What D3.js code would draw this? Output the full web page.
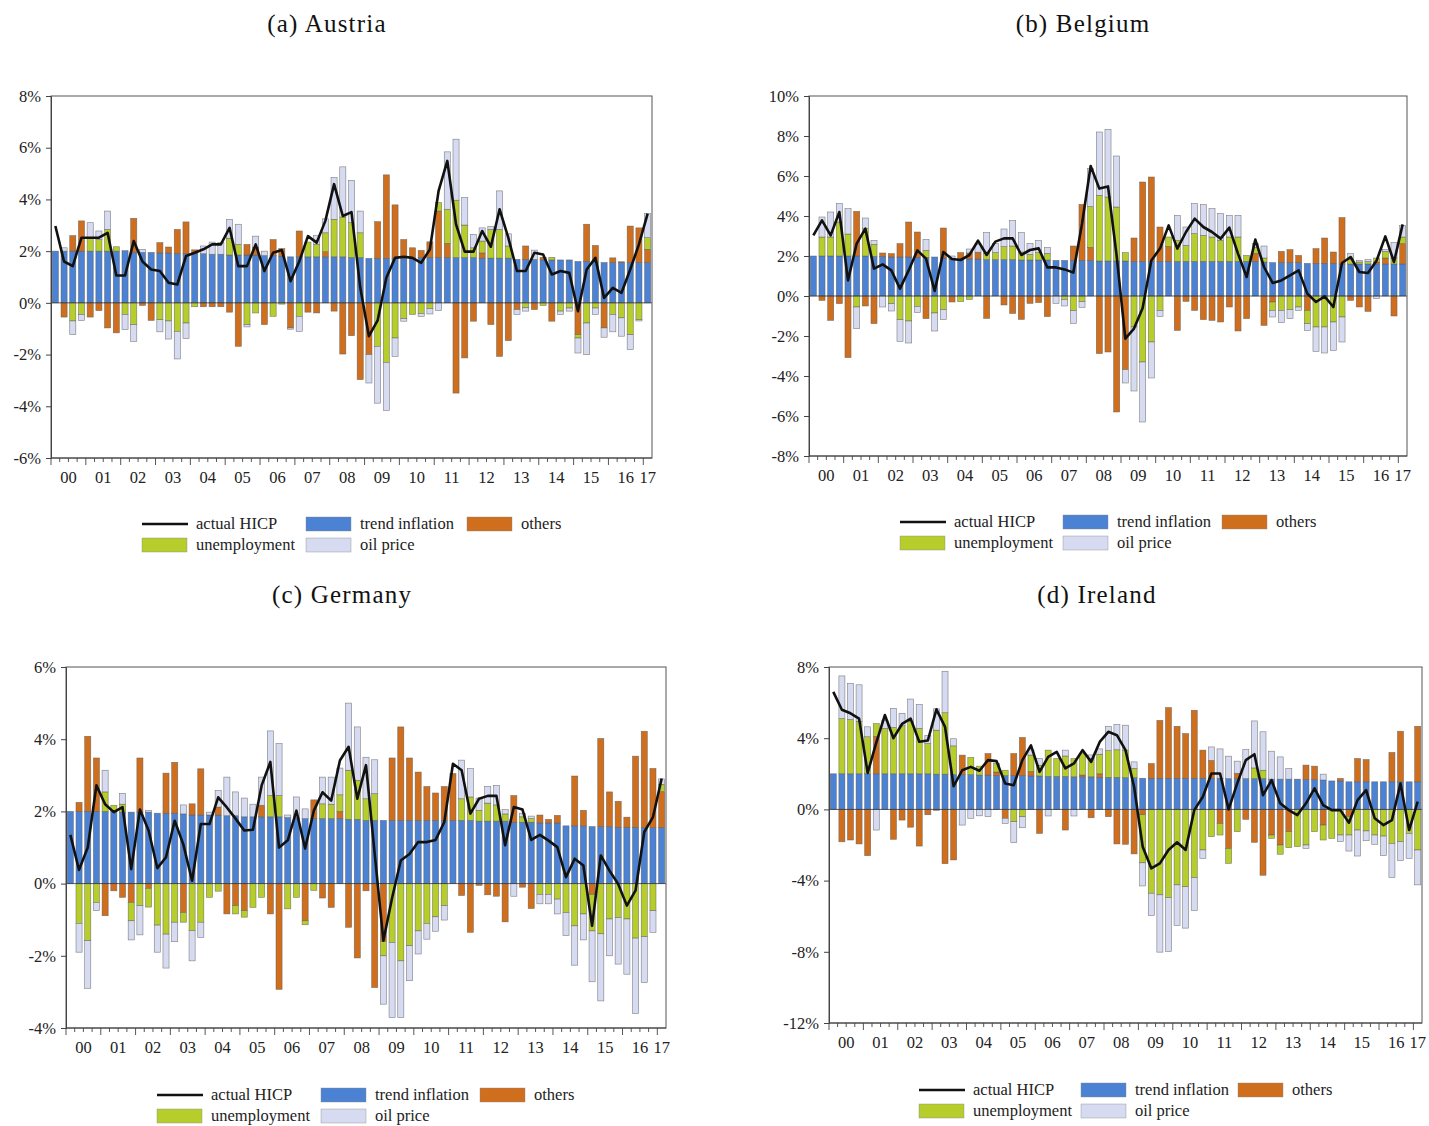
<!DOCTYPE html>
<html>
<head>
<meta charset="utf-8">
<script src="https://cdn.jsdelivr.net/npm/d3@7"></script>
<style>
  body { margin: 0; background: #ffffff; }
  svg text { font-family: "Liberation Serif", "Times New Roman", serif; fill: #222; }
</style>
</head>
<body>
<svg id="chart" width="1429" height="1126"></svg>
<script>
// Year labels on the x axis; quarterly observations run 2000Q1 .. 2017Q1
const years = ["00","01","02","03","04","05","06","07","08","09","10","11","12","13","14","15","16","17"];
const quarters = [];
years.forEach((yr, k) => {
  const n = k < years.length - 1 ? 4 : 1;
  for (let q = 1; q <= n; q++) quarters.push(yr + "Q" + q);
});

const seriesKeys = ["trend", "others", "unemployment", "oil"];

// ---------- Austria ----------
const austriaTrend = [2.0,2.0,2.0,2.0,2.0,2.0,2.0,2.0,2.02,1.95,1.95,1.95,1.93,1.93,1.9,1.9,1.9,1.9,1.88,1.88,1.85,1.85,1.85,1.85,1.83,1.83,1.8,1.78,1.78,1.78,1.78,1.78,1.78,1.78,1.75,1.75,1.72,1.72,1.72,1.72,1.72,1.72,1.75,1.75,1.75,1.75,1.75,1.75,1.75,1.73,1.73,1.73,1.73,1.68,1.68,1.68,1.66,1.66,1.66,1.66,1.6,1.6,1.58,1.56,1.56,1.56,1.56,1.56,1.56];
const austriaOthers = [0,-0.55,0.6,1.17,-0.55,-0.3,-0.97,-1.16,0,1.32,
  -0.1,-0.68,0.4,0.23,0.94,1.23,0.15,-0.15,-0.15,-0.15,
  -0.36,-1.68,0.41,0.3,-0.84,0.62,0.3,-0.97,1.0,-0.36,
  -0.39,0.2,-0.32,-1.98,-1.27,-2.97,-2.0,1.42,3.23,2.07,
  0.73,0.41,0.28,0.61,1.8,0.55,-3.49,-2.13,-0.71,0.2,
  -0.84,-2.07,-1.46,-0.26,0.52,-0.26,0.1,-0.71,0,0,
  -1.23,1.44,0.64,-0.97,0.18,0.03,1.41,1.34,0.51];
const austriaUnemployment = [0,0,-0.7,-0.45,0.5,0.45,0.84,0.17,-0.45,-0.84,
  0,0,-0.65,-0.7,-1.1,-0.78,-0.15,0,0,0,
  0.65,0.41,-0.84,-0.39,0,-0.52,-0.05,0,-0.52,0.57,
  0.48,0.73,1.45,1.54,1.35,0.96,0,-1.68,-2.3,-1.36,
  -0.61,-0.45,-0.41,-0.22,0.33,1.32,2.22,1.26,0.38,0.46,
  1.11,1.11,0.47,0,-0.19,0,-0.1,0.1,-0.32,-0.2,
  -0.13,-0.78,-0.2,0,-0.45,-0.58,-1.23,-0.65,0.45];
const austriaOil = [0,0.13,-0.53,-0.23,0.6,0.33,0.71,0,-0.58,-0.65,
  0.12,0,-0.47,-0.7,-1.07,-0.6,0,0.3,0.47,0.45,
  0.73,0.78,-0.09,0.43,0.17,0,0,-0.05,-0.58,0,
  0.34,0.54,1.62,1.94,1.64,0.84,-1.1,-2.2,-1.86,-0.71,
  -0.1,0,-0.11,-0.21,-0.3,2.22,2.36,1.06,0.52,0.51,
  0.11,1.49,0.47,-0.19,-0.13,0.36,0,0,-0.13,-0.12,
  -0.58,-1.22,-0.25,-0.36,-0.67,-0.71,-0.58,-0.05,0.93];
const austriaHICP = [2.97,1.6,1.42,2.52,2.52,2.52,2.71,1.06,1.06,2.39,
  1.6,1.29,1.23,0.78,0.71,1.81,1.94,2.07,2.26,2.26,
  2.9,1.42,1.42,2.26,1.23,1.94,2.04,0.84,1.6,2.58,
  2.33,3.17,4.59,3.36,3.51,0.6,-1.29,-0.68,0.97,1.74,
  1.78,1.74,1.55,2.07,4.33,5.49,3.04,1.98,1.98,2.78,
  2.17,3.62,2.52,1.23,1.23,1.94,1.87,1.1,1.23,1.16,
  -0.32,1.29,1.74,0.19,0.58,0.39,1.29,2.26,3.45];

// ---------- Belgium ----------
const belgiumTrend = [2.0,2.0,2.0,2.0,2.0,2.0,2.0,1.98,1.98,1.95,1.95,1.95,1.93,1.93,1.95,1.9,1.85,1.85,1.85,1.85,1.82,1.82,1.82,1.82,1.8,1.8,1.8,1.8,1.78,1.78,1.78,1.78,1.78,1.75,1.75,1.75,1.75,1.73,1.73,1.73,1.73,1.73,1.73,1.73,1.73,1.73,1.73,1.73,1.73,1.73,1.73,1.73,1.7,1.67,1.67,1.67,1.67,1.63,1.63,1.63,1.63,1.6,1.6,1.6,1.6,1.6,1.6,1.6,1.6];
const belgiumOthers = [0,-0.22,-1.22,-0.38,-3.08,2.23,-0.5,-1.38,0.17,0.17,
  0.67,1.75,1.27,-1.13,0,1.5,-0.3,0.32,0.3,0.34,
  -1.12,0,-0.45,-0.87,-1.17,-0.37,-0.33,-1.03,0,0,
  0.72,2.8,0.65,-2.88,-2.8,-5.8,-3.68,1.17,3.97,4.22,
  1.72,0.75,-1.72,-0.27,-0.72,-1.18,-1.22,-1.3,-0.55,-1.75,
  -1.13,0.4,-1.47,-0.3,0.56,0.65,0.36,-0.72,0.74,1.27,
  0.57,2.32,-0.22,-0.55,-0.77,0.1,0.3,-1.0,1.02];
const belgiumUnemployment = [0,0.95,0.95,1.7,1.1,-0.55,1.37,0.6,0,-0.38,
  -1.18,-1.25,-0.52,0.35,-0.85,-0.68,0,-0.28,-0.17,0,
  0.3,0.35,0.65,0.68,0.4,0.28,0.37,0.33,0,-0.17,
  -0.73,-0.28,2.04,3.28,3.2,2.7,0.42,-1.55,-3.3,-2.3,
  -0.72,0.47,1.05,0.8,1.39,1.3,1.22,1.05,1.22,1.22,
  0.3,0.3,0.2,-0.42,-0.72,-0.68,-0.55,-0.66,-1.55,-1.55,
  -1.3,-1.05,0.25,0.1,0.12,0.2,0.33,0.3,0.33];
const belgiumOil = [0,1.0,1.25,0.92,1.27,-1.08,0.53,0.2,-0.55,-0.37,
  -1.09,-1.1,-0.31,0.55,-0.9,-0.5,0.15,0,0.2,0.4,
  1.05,0.46,0.88,1.27,0.97,0.55,0.6,0.3,-0.37,-0.33,
  -0.64,-0.29,1.9,3.17,3.38,2.55,-0.67,-3.2,-3.0,-1.8,
  -0.3,0,1.25,0.92,1.5,1.54,1.42,1.34,1.08,1.08,
  0,0.2,0.6,-0.33,-0.61,-0.45,-0.17,-0.34,-1.22,-1.3,
  -1.42,-1.25,0.27,0.08,0.1,-0.13,0.1,0.77,0.58];
const belgiumHICP = [3.03,3.78,3.03,4.2,0.78,2.62,3.37,1.37,1.58,1.28,
  0.37,1.28,2.28,1.87,0.25,2.2,1.85,1.8,2.05,2.77,
  2.05,2.72,2.88,2.88,2.05,2.3,2.38,1.43,1.43,1.33,
  1.17,3.6,6.5,5.37,5.48,2.0,-2.13,-1.63,-0.6,1.78,
  2.37,3.53,2.37,3.2,3.87,3.45,3.2,2.87,3.42,2.12,
  0.95,2.82,1.45,0.65,0.78,1.03,1.28,0.12,-0.3,-0.02,
  -0.55,1.65,1.95,1.2,1.15,1.78,2.98,1.7,3.58];

// ---------- Germany ----------
const germanyTrend = [2.0,2.0,2.0,2.0,2.0,2.0,1.98,1.98,1.98,1.98,1.95,1.95,1.95,1.93,1.9,1.9,1.9,1.9,1.88,1.88,1.85,1.85,1.85,1.85,1.85,1.83,1.83,1.8,1.8,1.8,1.8,1.8,1.78,1.78,1.75,1.75,1.75,1.75,1.75,1.75,1.75,1.75,1.75,1.75,1.75,1.75,1.75,1.73,1.73,1.73,1.73,1.7,1.7,1.7,1.68,1.68,1.68,1.6,1.6,1.6,1.58,1.58,1.58,1.56,1.56,1.56,1.55,1.55,1.55];
const germanyOthers = [0,0.25,2.08,1.48,-0.89,-0.2,-0.38,-0.52,1.5,-0.13,
  0,1.11,1.41,-0.8,0.31,1.28,0,0.22,-0.84,-0.61,
  -0.75,0,0.32,-0.84,-2.93,0,0,-1.03,0.52,-0.4,
  -0.66,0.2,-1.21,-2.06,-0.2,-2.88,-1.6,1.73,2.59,1.73,
  1.34,0.94,0.76,0.94,1.3,-0.33,-1.35,-0.05,-0.31,-0.35,
  -1.06,0.74,-0.1,-0.69,0.22,0.1,0.21,0,1.38,0.43,
  -0.3,2.44,0.96,0.72,0.28,1.97,2.67,1.64,1.0];
const germanyUnemployment = [0,-1.1,-1.58,-0.52,0.54,0.17,0.22,-0.51,-0.61,-0.52,
  -1.15,-1.4,-1.07,-0.27,-1.3,-1.07,-0.38,-0.21,0,-0.23,
  -0.18,-0.66,-0.38,0.59,0.59,-0.7,-0.38,-0.11,-0.19,0.41,
  0.4,0.46,1.36,1.08,0.6,0.74,-0.4,-1.63,-2.14,-1.72,
  -1.31,-1.1,-0.92,-0.61,0,0.6,0.65,0.3,0.5,0.45,
  0.2,0,0.15,0.1,-0.3,-0.3,-0.43,-0.8,-1.17,-0.84,
  -1.01,-1.39,-0.98,-0.94,-0.98,-1.51,-1.47,-0.75,0.2];
const germanyOil = [0,-0.8,-1.32,-0.23,0.6,0,0.3,-0.53,-0.81,0.05,
  -0.75,-0.94,-0.54,0.25,-0.84,-0.42,0.08,0.46,1.07,0.66,
  0.52,0.35,0.78,1.79,1.44,0.07,0.57,0.27,0,0.74,
  0.75,0.74,1.86,1.48,1.15,0.94,-1.34,-2.08,-1.57,-0.97,
  -0.64,-0.44,-0.4,-0.4,0,1.07,0.79,0.34,0.46,0.54,
  0.12,-0.35,0.1,0.07,-0.26,-0.26,-0.41,-0.64,-1.09,-0.72,
  -1.41,-1.86,-1.02,-1.29,-1.53,-2.09,-1.27,-0.6,0.15];
const germanyHICP = [1.35,0.38,1.0,2.72,2.2,1.98,2.12,0.4,2.05,1.47,
  0.43,0.73,1.74,1.08,0.08,1.65,1.65,2.39,2.11,1.8,
  1.47,1.49,2.72,3.37,1.0,1.2,2.02,0.97,2.02,2.53,
  2.3,3.41,3.79,2.35,3.28,0.82,-1.58,-0.4,0.64,0.82,
  1.15,1.15,1.21,1.7,3.32,3.14,1.94,2.35,2.43,2.43,
  1.06,2.12,2.05,1.21,1.35,1.19,1.01,0.18,0.69,0.5,
  -1.17,0.78,0.36,-0.01,-0.61,-0.19,1.43,1.84,2.91];

// ---------- Ireland ----------
const irelandTrend = [2.0,2.0,2.0,2.0,2.0,2.0,2.0,2.0,2.0,2.0,2.0,2.0,1.98,1.98,1.95,1.95,1.95,1.93,1.93,1.9,1.9,1.9,1.9,1.88,1.88,1.85,1.85,1.85,1.83,1.83,1.83,1.8,1.8,1.8,1.78,1.78,1.75,1.75,1.75,1.75,1.75,1.75,1.75,1.75,1.75,1.75,1.73,1.73,1.73,1.73,1.73,1.7,1.7,1.7,1.7,1.68,1.68,1.65,1.6,1.6,1.55,1.55,1.55,1.55,1.55,1.55,1.55,1.55,1.55];
const irelandOthers = [0,-1.82,-1.72,-1.94,-2.6,2.1,0,-1.68,-0.6,-1.0,
  -2.06,-0.3,-0.05,-3.05,-2.84,1.1,0,0,1.21,0.2,
  -0.5,1.24,2.14,0.25,-1.35,0,0,-1.16,0,0.1,
  -0.47,0.2,-0.41,-1.94,-1.96,-2.5,-0.3,0.83,3.25,3.97,
  2.92,2.51,3.82,1.58,1.0,-0.79,-2.19,0.3,-0.56,-1.85,
  -3.7,-1.44,-2.0,-1.25,0,0.81,0.75,-0.88,0,0.14,
  -0.4,1.31,1.25,0,0,1.65,2.84,0,3.12];
const irelandUnemployment = [0,3.1,3.05,2.95,2.08,0.72,2.55,2.6,2.7,2.95,
  2.55,1.7,2.47,3.45,1.62,0,0.97,0.5,0,0.48,
  0.3,-0.69,-0.41,0.92,0.6,1.48,1.01,1.15,1.03,1.21,
  1.03,1.1,1.5,1.55,1.55,0.52,-2.7,-4.71,-4.8,-4.95,
  -4.24,-4.34,-3.83,-2.28,-1.53,-0.65,-0.84,-1.25,0,0.6,
  0.47,-0.19,-0.52,-0.9,-2.09,-2.0,-1.25,-0.84,-1.63,-1.44,
  -1.04,-1.16,-1.21,-1.44,-1.5,-1.91,-1.81,-1.35,-2.28];
const irelandOil = [0,2.4,2.03,2.05,0.56,-1.16,0.45,1.08,0.7,1.25,
  1.35,0.45,1.2,2.33,0.4,-0.88,-0.5,-0.36,-0.41,0,
  -0.29,-1.18,-0.62,0.3,0.38,-0.37,0,0.33,-0.37,0,
  0.2,0.3,1.37,1.42,1.4,0.37,-1.3,-1.25,-3.22,-3.03,
  -2.28,-2.33,-1.85,-0.47,0.76,1.65,1.26,0.68,1.63,2.64,
  2.16,1.57,1.25,0.6,0,-0.19,0,0.33,0,-0.37,
  -0.9,-1.46,-0.55,-0.52,-1.1,-1.92,-1.07,-1.4,-1.96];
const irelandHICP = [6.6,5.6,5.4,5.1,2.05,3.75,5.3,4.0,4.8,5.1,
  3.8,3.87,5.62,4.64,1.3,2.2,2.39,2.17,2.77,2.71,
  1.46,1.36,2.77,3.6,2.11,2.95,3.23,2.3,2.58,3.33,
  2.67,3.79,4.36,4.17,3.33,1.27,-2.1,-3.31,-3.03,-2.28,
  -1.85,-2.28,-0.04,0.71,2.02,2.02,0.0,1.46,2.77,3.1,
  0.8,1.64,0.34,-0.04,-0.32,0.34,1.18,0.24,-0.04,-0.04,
  -0.75,0.52,1.08,-0.5,-0.88,-0.6,1.46,-1.16,0.43];

// Legend entries, in the order they are laid out
const legendItems = [
  { label: "actual HICP", kind: "line" },
  { label: "trend inflation", kind: "trend" },
  { label: "others", kind: "others" },
  { label: "unemployment", kind: "unemployment" },
  { label: "oil price", kind: "oil" }
];

const colors = {
  trend: "#4c82d3",
  others: "#cf6f1e",
  unemployment: "#b7cd2c",
  oil: "#d6dbf1"
};

const panels = [
  { title: "(a) Austria", tx: 327, ty: 26, left: 51, right: 652, top: 96, bottom: 458,
    domain: [-6, 8], step: 2, lx: 142, ly: 524, cols: [0, 164, 325],
    series: { trend: austriaTrend, others: austriaOthers, unemployment: austriaUnemployment, oil: austriaOil },
    hicp: austriaHICP },
  { title: "(b) Belgium", tx: 1083, ty: 26, left: 809, right: 1407, top: 96, bottom: 456,
    domain: [-8, 10], step: 2, lx: 900, ly: 522, cols: [0, 163, 322],
    series: { trend: belgiumTrend, others: belgiumOthers, unemployment: belgiumUnemployment, oil: belgiumOil },
    hicp: belgiumHICP },
  { title: "(c) Germany", tx: 342, ty: 597, left: 66, right: 666, top: 667, bottom: 1028,
    domain: [-4, 6], step: 2, lx: 157, ly: 1095, cols: [0, 164, 323],
    series: { trend: germanyTrend, others: germanyOthers, unemployment: germanyUnemployment, oil: germanyOil },
    hicp: germanyHICP },
  { title: "(d) Ireland", tx: 1097, ty: 597, left: 829, right: 1422, top: 667, bottom: 1023,
    domain: [-12, 8], step: 4, lx: 919, ly: 1090, cols: [0, 162, 319],
    series: { trend: irelandTrend, others: irelandOthers, unemployment: irelandUnemployment, oil: irelandOil },
    hicp: irelandHICP }
];

const svg = d3.select("#chart");
const PAD_IN = 0.3, PAD_OUT = 0.15;

function drawPanel(p) {
  const g = svg.append("g");

  const x = d3.scaleBand().domain(quarters).range([p.left, p.right])
    .paddingInner(PAD_IN).paddingOuter(PAD_OUT);
  const y = d3.scaleLinear().domain(p.domain).range([p.bottom, p.top]);
  const step = x.step();
  const bw = x.bandwidth();

  // title
  g.append("text")
    .attr("x", p.tx).attr("y", p.ty)
    .attr("text-anchor", "middle").attr("dominant-baseline", "middle")
    .style("font-size", "25px").style("letter-spacing", "1.2px").style("fill", "#111")
    .text(p.title);

  // stacked components: positives pile up from zero, negatives hang below it
  const rows = quarters.map((q, i) => {
    const r = { q };
    seriesKeys.forEach(k => { r[k] = p.series[k][i]; });
    return r;
  });
  const stacked = d3.stack().keys(seriesKeys).offset(d3.stackOffsetDiverging)(rows);

  stacked.forEach(layer => {
    g.append("g").selectAll("rect")
      .data(layer.filter(d => Math.abs(d[1] - d[0]) > 1e-9))
      .join("rect")
      .attr("x", d => x(d.data.q))
      .attr("width", bw)
      .attr("y", d => y(Math.max(d[0], d[1])))
      .attr("height", d => Math.abs(y(d[0]) - y(d[1])))
      .attr("fill", colors[layer.key])
      .attr("stroke", "#5a5a5a")
      .attr("stroke-width", 0.6)
      .attr("stroke-opacity", 0.75);
  });

  // zero line
  g.append("line")
    .attr("x1", p.left).attr("x2", p.right)
    .attr("y1", y(0)).attr("y2", y(0))
    .attr("stroke", "#333").attr("stroke-width", 0.8);

  // actual HICP
  const line = d3.line()
    .x((d, i) => x(quarters[i]) + bw / 2)
    .y(d => y(d));
  g.append("path")
    .datum(p.hicp)
    .attr("d", line)
    .attr("fill", "none")
    .attr("stroke", "#111")
    .attr("stroke-width", 2.6)
    .attr("stroke-linejoin", "round");

  // frame
  g.append("rect")
    .attr("x", p.left).attr("y", p.top)
    .attr("width", p.right - p.left).attr("height", p.bottom - p.top)
    .attr("fill", "none").attr("stroke", "#555").attr("stroke-width", 1);

  // y axis
  const yAxis = d3.axisLeft(y)
    .tickValues(d3.range(p.domain[0], p.domain[1] + 0.001, p.step))
    .tickFormat(d => d + "%")
    .tickSize(5).tickPadding(5);
  const ya = g.append("g").attr("transform", `translate(${p.left},0)`).call(yAxis);
  ya.select(".domain").attr("stroke", "#444");
  ya.selectAll(".tick line").attr("stroke", "#444");
  ya.selectAll(".tick text")
    .style("font-size", "16.5px")
    .style("font-family", "'Liberation Serif', serif")
    .attr("fill", "#333");

  // x axis: quarter ticks, longer ticks at year boundaries
  const xa = g.append("g");
  xa.append("line")
    .attr("x1", p.left).attr("x2", p.right)
    .attr("y1", p.bottom).attr("y2", p.bottom)
    .attr("stroke", "#444").attr("stroke-width", 1);
  const bounds = quarters.map(q => x(q) - step * PAD_OUT);
  bounds.forEach((bx, i) => {
    const major = i % 4 === 0;
    xa.append("line")
      .attr("x1", bx).attr("x2", bx)
      .attr("y1", p.bottom).attr("y2", p.bottom + (major ? 7 : 4))
      .attr("stroke", "#444").attr("stroke-width", 0.9);
  });
  years.forEach(yr => {
    const qs = quarters.filter(q => q.startsWith(yr));
    const cx = d3.mean(qs, q => x(q) + bw / 2);
    xa.append("text")
      .attr("x", cx).attr("y", p.bottom + 21)
      .attr("text-anchor", "middle").attr("dominant-baseline", "middle")
      .style("font-size", "16.5px").attr("fill", "#333")
      .text(yr);
  });

  // legend
  const lg = g.append("g");
  legendItems.forEach((it, k) => {
    const row = k < 3 ? 0 : 1;
    const col = k < 3 ? k : k - 3;
    const lx = p.lx + p.cols[col];
    const ly = p.ly + row * 21;
    if (it.kind === "line") {
      lg.append("line")
        .attr("x1", lx).attr("x2", lx + 46)
        .attr("y1", ly).attr("y2", ly)
        .attr("stroke", "#111").attr("stroke-width", 2.4);
    } else {
      lg.append("rect")
        .attr("x", lx).attr("y", ly - 7)
        .attr("width", 45).attr("height", 14)
        .attr("fill", colors[it.kind])
        .attr("stroke", "#888").attr("stroke-width", 0.4);
    }
    lg.append("text")
      .attr("x", lx + 54).attr("y", ly + 1)
      .attr("dominant-baseline", "middle")
      .style("font-size", "16.5px").attr("fill", "#333")
      .text(it.label);
  });
}

panels.forEach(drawPanel);
</script>
</body>
</html>
